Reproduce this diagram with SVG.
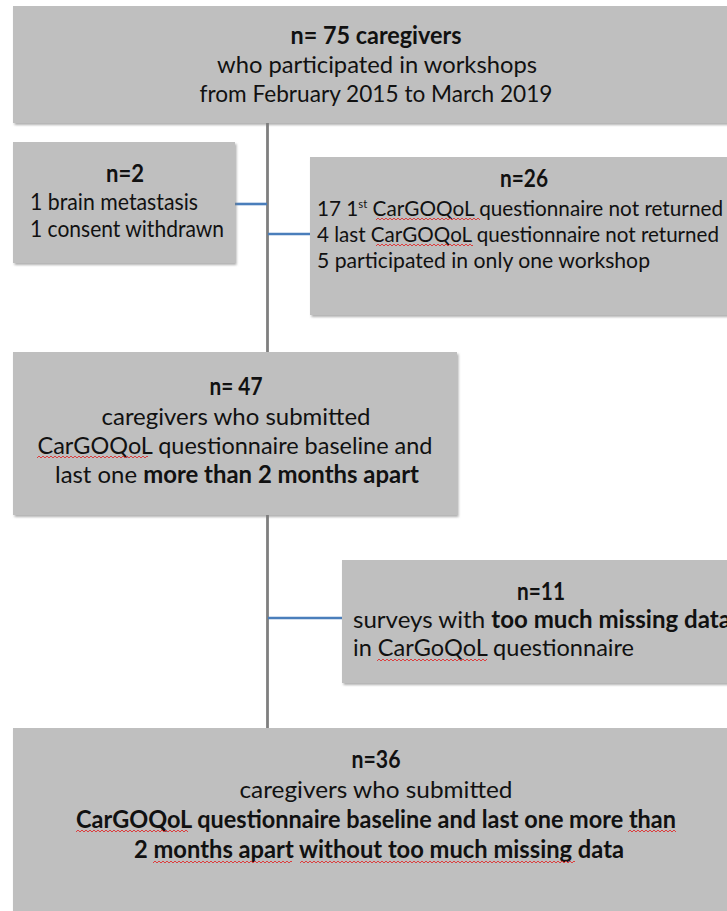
<svg xmlns="http://www.w3.org/2000/svg" width="727" height="911" viewBox="0 0 727 911">
<style>
.box{fill:#bfbfbf;filter:url(#sh)}
text{font-family:Lato,"Open Sans","Liberation Sans",sans-serif;font-size:24px;fill:#111}
.s{font-size:22px}
.b{font-weight:bold}
.c{text-anchor:middle}
.lnk{stroke:#4a7ebb;stroke-width:2.6;fill:none}
.trunk{stroke:#7f7f7f;stroke-width:2.8;fill:none}
.sq{fill:url(#sq)}
</style>
<defs>
<filter id="sh" x="-5%" y="-5%" width="110%" height="115%">
<feDropShadow dx="1.5" dy="2" stdDeviation="1.2" flood-color="#7a7a7a" flood-opacity="0.6"/>
</filter>
<pattern id="sq" width="4" height="4" patternUnits="userSpaceOnUse">
<path d="M0,3 L2,1 L4,3" stroke="#e03030" stroke-width="0.9" fill="none"/>
</pattern>
</defs>
<rect width="727" height="911" fill="#fff"/>
<g id="connectors">
<line class="trunk" x1="267.5" y1="122" x2="267.5" y2="729"/>
<line class="lnk" x1="235" y1="204" x2="267" y2="204"/>
<line class="lnk" x1="268" y1="234" x2="311" y2="234"/>
<line class="lnk" x1="268" y1="618" x2="343" y2="618"/>
</g>
<g id="n75">
<rect class="box" x="13" y="6" width="730" height="117"/>
<text class="c b" x="376" y="44" textLength="171" lengthAdjust="spacingAndGlyphs">n= 75 caregivers</text>
<text class="c" x="377" y="73" textLength="320" lengthAdjust="spacingAndGlyphs">who participated in workshops</text>
<text class="c" x="376" y="102" textLength="353" lengthAdjust="spacingAndGlyphs">from February 2015 to March 2019</text>
</g>
<g id="n2">
<rect class="box" x="13" y="142" width="222" height="121"/>
<text class="c b" x="125" y="182" textLength="38" lengthAdjust="spacingAndGlyphs">n=2</text>
<text x="30" y="210" textLength="168" lengthAdjust="spacingAndGlyphs">1 brain metastasis</text>
<text x="30" y="237" textLength="194" lengthAdjust="spacingAndGlyphs">1 consent withdrawn</text>
</g>
<g id="n26">
<rect class="box" x="310" y="157" width="430" height="158"/>
<text class="c b" x="524" y="187" textLength="48" lengthAdjust="spacingAndGlyphs">n=26</text>
<text class="s" x="317" y="216" textLength="406" lengthAdjust="spacingAndGlyphs">17 1<tspan font-size="12" dy="-8">st</tspan><tspan dy="8"> CarGOQoL questionnaire not returned</tspan></text>
<text class="s" x="317" y="242" textLength="402" lengthAdjust="spacingAndGlyphs">4 last CarGOQoL questionnaire not returned</text>
<text class="s" x="317" y="268" textLength="333" lengthAdjust="spacingAndGlyphs">5 participated in only one workshop</text>
<rect class="sq" transform="translate(376,217)" width="104" height="4"/>
<rect class="sq" transform="translate(376,243)" width="97" height="4"/>
</g>
<g id="n47">
<rect class="box" x="13" y="352" width="444" height="163"/>
<text class="c b" x="236" y="395" textLength="53" lengthAdjust="spacingAndGlyphs">n= 47</text>
<text class="c" x="236" y="425" textLength="269" lengthAdjust="spacingAndGlyphs">caregivers who submitted</text>
<text class="c" x="235" y="454" textLength="395" lengthAdjust="spacingAndGlyphs">CarGOQoL questionnaire baseline and</text>
<text class="c" x="237" y="483" textLength="364" lengthAdjust="spacingAndGlyphs">last  one <tspan class="b">more than 2 months apart</tspan></text>
<rect class="sq" transform="translate(37,455)" width="111" height="4"/>
</g>
<g id="n11">
<rect class="box" x="342" y="560" width="398" height="123"/>
<text class="c b" x="541" y="600" textLength="48" lengthAdjust="spacingAndGlyphs">n=11</text>
<text x="353" y="628" textLength="378" lengthAdjust="spacingAndGlyphs">surveys with  <tspan class="b">too much missing data</tspan></text>
<text x="353" y="656" textLength="281" lengthAdjust="spacingAndGlyphs">in CarGoQoL questionnaire</text>
<rect class="sq" transform="translate(377,658)" width="110" height="4"/>
</g>
<g id="n36">
<rect class="box" x="13" y="728" width="730" height="200"/>
<text class="c b" x="376" y="768" textLength="49" lengthAdjust="spacingAndGlyphs">n=36</text>
<text class="c" x="376" y="798" textLength="273" lengthAdjust="spacingAndGlyphs">caregivers who submitted</text>
<text class="c b" x="376" y="828" textLength="600" lengthAdjust="spacingAndGlyphs">CarGOQoL questionnaire baseline and last one more than</text>
<text class="c b" x="379" y="858" textLength="490" lengthAdjust="spacingAndGlyphs">2 months apart  without too much missing data</text>
<rect class="sq" transform="translate(76,829)" width="112" height="4"/>
<rect class="sq" transform="translate(628,829)" width="48" height="4"/>
<rect class="sq" transform="translate(153,860)" width="139" height="4"/>
<rect class="sq" transform="translate(300,860)" width="275" height="4"/>
</g>
</svg>
